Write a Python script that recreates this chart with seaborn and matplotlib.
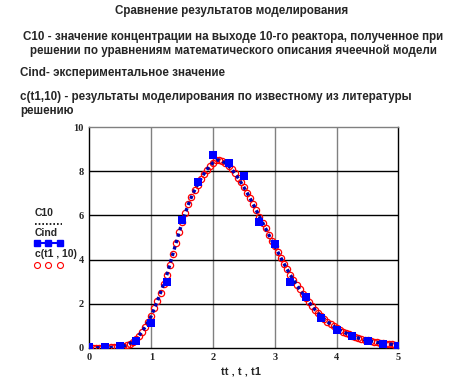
import numpy as np
import pandas as pd
import matplotlib
matplotlib.use("Agg")
import matplotlib.pyplot as plt
from matplotlib.lines import Line2D
import seaborn as sns

# ---------------- data ----------------
t_model = [round(0.05 * i, 2) for i in range(101)]
c10_vals = [0.00, 0.00, 0.00, 0.00, 0.00, 0.00, 0.00, 0.01, 0.01, 0.02,
            0.04, 0.07, 0.12, 0.19, 0.28, 0.40, 0.55, 0.73, 0.94, 1.18,
            1.45, 1.78, 2.13, 2.50, 2.89, 3.30, 3.77, 4.26, 4.75, 5.23,
            5.70, 6.12, 6.50, 6.84, 7.14, 7.40, 7.65, 7.88, 8.08, 8.25,
            8.40, 8.50, 8.51, 8.46, 8.37, 8.25, 8.10, 7.92, 7.72, 7.50,
            7.27, 7.03, 6.77, 6.50, 6.23, 5.95, 5.68, 5.41, 5.13, 4.86,
            4.60, 4.33, 4.06, 3.80, 3.55, 3.30, 3.08, 2.86, 2.65, 2.45,
            2.25, 2.07, 1.89, 1.72, 1.57, 1.42, 1.30, 1.18, 1.07, 0.97,
            0.88, 0.80, 0.73, 0.66, 0.60, 0.54, 0.49, 0.44, 0.40, 0.36,
            0.33, 0.30, 0.27, 0.24, 0.22, 0.20, 0.18, 0.16, 0.15, 0.13,
            0.12]
ct1_vals = [0.00, 0.00, 0.00, 0.00, 0.00, 0.00, 0.00, 0.01, 0.01, 0.02,
            0.04, 0.07, 0.12, 0.19, 0.28, 0.40, 0.55, 0.73, 0.94, 1.18,
            1.45, 1.78, 2.13, 2.50, 2.89, 3.30, 3.77, 4.26, 4.75, 5.23,
            5.70, 6.12, 6.50, 6.84, 7.14, 7.40, 7.65, 7.88, 8.08, 8.25,
            8.40, 8.50, 8.51, 8.46, 8.37, 8.25, 8.10, 7.92, 7.72, 7.50,
            7.27, 7.03, 6.77, 6.50, 6.23, 5.95, 5.68, 5.41, 5.13, 4.86,
            4.60, 4.33, 4.06, 3.80, 3.55, 3.30, 3.08, 2.86, 2.65, 2.45,
            2.25, 2.07, 1.89, 1.72, 1.57, 1.42, 1.30, 1.18, 1.07, 0.97,
            0.88, 0.80, 0.73, 0.66, 0.60, 0.54, 0.49, 0.44, 0.40, 0.36,
            0.33, 0.30, 0.27, 0.24, 0.22, 0.20, 0.18, 0.16, 0.15, 0.13,
            0.12]
t_exp = [0.0, 0.25, 0.5, 0.75, 1.0, 1.25, 1.5, 1.75, 2.0, 2.25, 2.5,
         2.75, 3.0, 3.25, 3.5, 3.75, 4.0, 4.25, 4.5, 4.75, 5.0]
cind_vals = [0.05, 0.05, 0.07, 0.29, 1.12, 3.00, 5.80, 7.50, 8.75, 8.40, 7.77,
             5.72, 4.72, 3.00, 2.30, 1.35, 0.82, 0.51, 0.32, 0.17, 0.09]
x_ticks = [0, 1, 2, 3, 4, 5]
y_ticks = [0, 2, 4, 6, 8, 10]

title1 = "Сравнение результатов моделирования"
title2 = "C10 - значение концентрации на выходе 10-го реактора, полученное при\nрешении по уравнениям математического описания ячеечной модели"
title3 = "Cind- экспериментальное значение"
title4 = "c(t1,10) - результаты моделирования по известному из литературы\nрешению"
x_label = "tt , t , t1"
legend_labels = ["C10", "Cind", "c(t1 , 10)"]

df_model = pd.DataFrame({"t": t_model, "C10": c10_vals, "c": ct1_vals})
df_exp = pd.DataFrame({"t": t_exp, "Cind": cind_vals})

# ---------------- figure ----------------
sns.set_theme(style="white")
plt.rcParams['font.family'] = ['Liberation Sans', 'DejaVu Sans']

W, H = 464, 382
fig = plt.figure(figsize=(W / 100, H / 100), dpi=100)
ax = fig.add_axes([89.5 / W, 1 - 347.7 / H, (398.5 - 89.5) / W, (347.7 - 127.3) / H])

blue = "#0000ff"
dark_blue = "#0000b0"
red = "#ff0000"

# grid
for xv in x_ticks[1:-1]:
    ax.axvline(xv, color="#808080", lw=1.0, zorder=0)
for yv in y_ticks[1:-1]:
    ax.axhline(yv, color="black", lw=1.0, zorder=0)

sns.lineplot(data=df_model, x="t", y="c", ax=ax, linestyle="none",
             marker="o", markersize=4.5, markerfacecolor="none",
             markeredgecolor=red, markeredgewidth=0.9, zorder=3,
             errorbar=None)
sns.lineplot(data=df_model, x="t", y="C10", ax=ax, color=dark_blue,
             linestyle=(0, (1, 1)), lw=2.4, zorder=4, errorbar=None)
sns.scatterplot(data=df_exp, x="t", y="Cind", ax=ax, marker="s", s=28,
                color=blue, edgecolor=blue, linewidth=0, zorder=5)

ax.set_xlim(0, 5)
ax.set_ylim(0, 10)
ax.set_xticks(x_ticks)
ax.set_yticks(y_ticks)
ax.set_xticklabels([str(v) for v in x_ticks], family="Liberation Serif",
                   fontweight="bold", fontsize=7.5)
ax.set_yticklabels([str(v) for v in y_ticks], family="Liberation Serif",
                   fontweight="bold", fontsize=7.5)
ax.tick_params(axis="both", length=0, pad=4)
ax.set_xlabel("")
ax.set_ylabel("")

for side in ["left", "bottom", "right"]:
    ax.spines[side].set_color("black")
    ax.spines[side].set_linewidth(1.0)
ax.spines["top"].set_color("#808080")
ax.spines["top"].set_linewidth(1.0)

# ---------------- texts ----------------
def fx(px):
    return px / W

def fy(py):
    return 1 - py / H

fs = 8.4
fig.text(fx(232), fy(11), title1, ha="center", va="center", fontsize=fs, fontweight="bold")
fig.text(fx(233), fy(44), title2, ha="center", va="center", fontsize=fs,
         fontweight="bold", linespacing=1.15)
fig.text(fx(20), fy(73), title3, ha="left", va="center", fontsize=fs, fontweight="bold")
fig.text(fx(20), fy(104), title4, ha="left", va="center", fontsize=fs,
         fontweight="bold", linespacing=1.15)
fig.text(fx(241), fy(372), x_label, ha="center", va="center", fontsize=8,
         fontweight="bold")

# legend (Mathcad style: label above sample)
lfs = 7.5
fig.text(fx(35), fy(213), legend_labels[0], ha="left", va="center", fontsize=lfs, fontweight="bold")
fig.add_artist(Line2D([fx(35), fx(62)], [fy(224), fy(224)], color="black",
                      linestyle=(0, (1, 1.2)), lw=1.2, transform=fig.transFigure))
fig.text(fx(35), fy(233), legend_labels[1], ha="left", va="center", fontsize=lfs, fontweight="bold")
fig.add_artist(Line2D([fx(37), fx(48), fx(60)], [fy(243)] * 3, color=blue,
                      lw=1.5, marker="s", markersize=5, transform=fig.transFigure))
fig.text(fx(35), fy(254), legend_labels[2], ha="left", va="center", fontsize=lfs, fontweight="bold")
fig.add_artist(Line2D([fx(37), fx(48), fx(60)], [fy(265)] * 3, color=red,
                      linestyle="none", marker="o", markersize=4.3,
                      markerfacecolor="none", markeredgewidth=0.8,
                      transform=fig.transFigure))

fig.savefig("out.png", dpi=100)
